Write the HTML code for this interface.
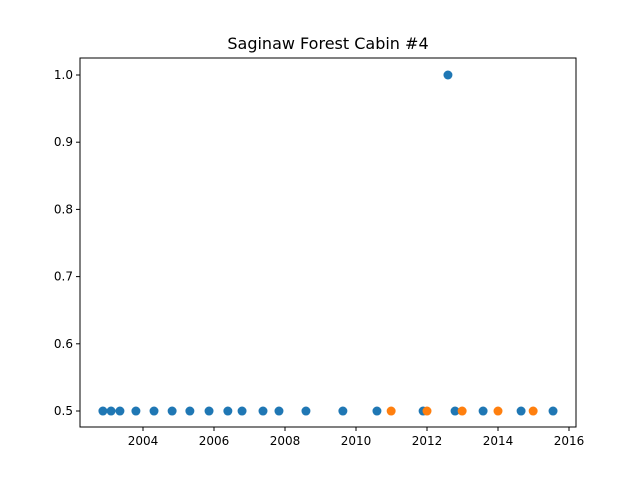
<!DOCTYPE html>
<html><head><meta charset="utf-8"><style>
body{margin:0;background:#fff;font-family:"Liberation Sans","DejaVu Sans",sans-serif}
svg text{font-family:"DejaVu Sans","Liberation Sans",sans-serif}
</style></head><body>
<svg id="chart" width="640" height="480">
<rect width="640" height="480" fill="#fff"/>
<text x="328" y="49" text-anchor="middle" font-size="16">Saginaw Forest Cabin #4</text>
<g id="marks"></g>
<g id="axes"></g>
<rect x="80" y="58" width="496" height="369" fill="none" stroke="#000" stroke-width="1"/>
</svg>
<script>
const blueYears=[2002.87,2003.10,2003.35,2003.80,2004.31,2004.82,2005.32,2005.86,2006.39,2006.79,2007.38,2007.83,2008.59,2009.63,2010.59,2011.89,2012.59,2012.79,2013.58,2014.65,2015.55];
const blueValues=[0.5,0.5,0.5,0.5,0.5,0.5,0.5,0.5,0.5,0.5,0.5,0.5,0.5,0.5,0.5,0.5,1.0,0.5,0.5,0.5,0.5];
const orangeYears=[2010.99,2012.0,2012.99,2014.0,2014.99];
const orangeValues=[0.5,0.5,0.5,0.5,0.5];
const xTicks=[2004,2006,2008,2010,2012,2014,2016];
const yTicks=[0.5,0.6,0.7,0.8,0.9,1.0];
const X0=80,X1=576,Y0=427,Y1=58;
const xMin=2002.225,xMax=2016.197,yMin=0.4762,yMax=1.0253;
const sx=v=>X0+(v-xMin)/(xMax-xMin)*(X1-X0);
const sy=v=>Y0-(v-yMin)/(yMax-yMin)*(Y0-Y1);
const NS="http://www.w3.org/2000/svg";
const marks=document.getElementById('marks'),axes=document.getElementById('axes');
function dots(xs,ys,color,name){
  xs.forEach((x,i)=>{
    const c=document.createElementNS(NS,'circle');
    c.setAttribute('cx',sx(x));c.setAttribute('cy',sy(ys[i]));c.setAttribute('r',4.5);c.setAttribute('fill',color);
    
    
    marks.appendChild(c);
  });
}
dots(blueYears,blueValues,'#1f77b4','blue-point');
dots(orangeYears,orangeValues,'#ff7f0e','orange-point');
xTicks.forEach(t=>{
  const x=sx(t);
  const l=document.createElementNS(NS,'line');
  l.setAttribute('x1',x);l.setAttribute('x2',x);l.setAttribute('y1',Y0);l.setAttribute('y2',Y0+4);l.setAttribute('stroke','#000');
  
  
  axes.appendChild(l);
  const tx=document.createElementNS(NS,'text');
  tx.setAttribute('x',x);tx.setAttribute('y',Y0+18);tx.setAttribute('text-anchor','middle');tx.setAttribute('font-size','12');
  tx.textContent=t;
  
  
  axes.appendChild(tx);
});
yTicks.forEach(t=>{
  const y=sy(t);
  const l=document.createElementNS(NS,'line');
  l.setAttribute('x1',X0-4);l.setAttribute('x2',X0);l.setAttribute('y1',y);l.setAttribute('y2',y);l.setAttribute('stroke','#000');
  
  
  axes.appendChild(l);
  const tx=document.createElementNS(NS,'text');
  tx.setAttribute('x',X0-7);tx.setAttribute('y',y+4);tx.setAttribute('text-anchor','end');tx.setAttribute('font-size','12');
  tx.textContent=t.toFixed(1);
  
  
  axes.appendChild(tx);
});
</script>
</body></html>
